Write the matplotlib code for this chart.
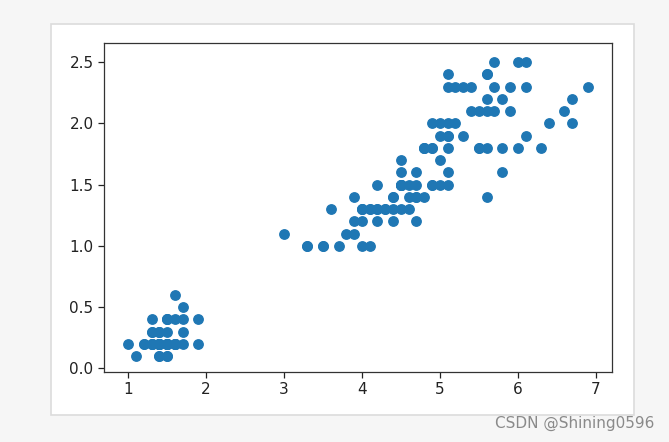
import numpy as np
import matplotlib.pyplot as plt
from matplotlib.patches import Rectangle

# iris: petal length / petal width
petal_length = [
    1.4, 1.4, 1.3, 1.5, 1.4, 1.7, 1.4, 1.5, 1.4, 1.5, 1.5, 1.6, 1.4, 1.1, 1.2, 1.5, 1.3, 1.4, 1.7, 1.5,
    1.7, 1.5, 1.0, 1.7, 1.9, 1.6, 1.6, 1.5, 1.4, 1.6, 1.6, 1.5, 1.5, 1.4, 1.5, 1.2, 1.3, 1.4, 1.3, 1.5,
    1.3, 1.3, 1.3, 1.6, 1.9, 1.4, 1.6, 1.4, 1.5, 1.4,
    4.7, 4.5, 4.9, 4.0, 4.6, 4.5, 4.7, 3.3, 4.6, 3.9, 3.5, 4.2, 4.0, 4.7, 3.6, 4.4, 4.5, 4.1, 4.5, 3.9,
    4.8, 4.0, 4.9, 4.7, 4.3, 4.4, 4.8, 5.0, 4.5, 3.5, 3.8, 3.7, 3.9, 5.1, 4.5, 4.5, 4.7, 4.4, 4.1, 4.0,
    4.4, 4.6, 4.0, 3.3, 4.2, 4.2, 4.2, 4.3, 3.0, 4.1,
    6.0, 5.1, 5.9, 5.6, 5.8, 6.6, 4.5, 6.3, 5.8, 6.1, 5.1, 5.3, 5.5, 5.0, 5.1, 5.3, 5.5, 6.7, 6.9, 5.0,
    5.7, 4.9, 6.7, 4.9, 5.7, 6.0, 4.8, 4.9, 5.6, 5.8, 6.1, 6.4, 5.6, 5.1, 5.6, 6.1, 5.6, 5.5, 4.8, 5.4,
    5.6, 5.1, 5.1, 5.9, 5.7, 5.2, 5.0, 5.2, 5.4, 5.1,
]
petal_width = [
    0.2, 0.2, 0.2, 0.2, 0.2, 0.4, 0.3, 0.2, 0.2, 0.1, 0.2, 0.2, 0.1, 0.1, 0.2, 0.4, 0.4, 0.3, 0.3, 0.3,
    0.2, 0.4, 0.2, 0.5, 0.2, 0.2, 0.4, 0.2, 0.2, 0.2, 0.2, 0.4, 0.1, 0.2, 0.2, 0.2, 0.2, 0.1, 0.2, 0.2,
    0.3, 0.3, 0.2, 0.6, 0.4, 0.3, 0.2, 0.2, 0.2, 0.2,
    1.4, 1.5, 1.5, 1.3, 1.5, 1.3, 1.6, 1.0, 1.3, 1.4, 1.0, 1.5, 1.0, 1.4, 1.3, 1.4, 1.5, 1.0, 1.5, 1.1,
    1.8, 1.3, 1.5, 1.2, 1.3, 1.4, 1.4, 1.7, 1.5, 1.0, 1.1, 1.0, 1.2, 1.6, 1.5, 1.6, 1.5, 1.3, 1.3, 1.3,
    1.2, 1.4, 1.2, 1.0, 1.3, 1.2, 1.3, 1.3, 1.1, 1.3,
    2.5, 1.9, 2.1, 1.8, 2.2, 2.1, 1.7, 1.8, 1.8, 2.5, 2.0, 1.9, 2.1, 2.0, 2.4, 2.3, 1.8, 2.2, 2.3, 1.5,
    2.3, 2.0, 2.0, 1.8, 2.1, 1.8, 1.8, 1.8, 2.1, 1.6, 1.9, 2.0, 2.2, 1.5, 1.4, 2.3, 2.4, 1.8, 1.8, 2.1,
    2.4, 2.3, 1.9, 2.3, 2.5, 2.3, 1.9, 2.0, 2.3, 1.8,
]
x_ticks = [1, 2, 3, 4, 5, 6, 7]
y_ticks = [0.0, 0.5, 1.0, 1.5, 2.0, 2.5]

fig = plt.figure(figsize=(6.69, 4.42), dpi=100)
fig.patch.set_facecolor('#f6f6f6')

# white card with a light border behind the plot
fig.patches.append(Rectangle((0.0762, 0.0611), 0.8714, 0.8846, transform=fig.transFigure,
                             facecolor='white', edgecolor='#dcdcdc', linewidth=1.2, zorder=-5))

ax = fig.add_axes([0.1555, 0.1584, 0.7593, 0.7443])
ax.set_zorder(2)
ax.scatter(petal_length, petal_width, s=46, color='#1f77b4')

ax.set_xticks(x_ticks)
ax.set_yticks(y_ticks)
ax.set_xlim(0.69, 7.21)
ax.set_ylim(-0.03, 2.655)
ax.tick_params(labelsize=11, length=4, width=0.9, colors='#222222')
for s in ax.spines.values():
    s.set_linewidth(0.9)
    s.set_color('#333333')

fig.text(0.978, 0.043, 'CSDN @Shining0596', ha='right', va='center',
         fontsize=11, color='#8a8a8a')

fig.savefig('out.png', dpi=100, facecolor=fig.get_facecolor())
